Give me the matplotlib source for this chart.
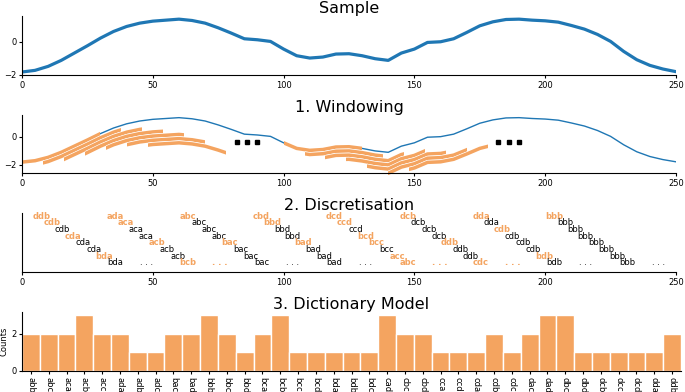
import numpy as np
import matplotlib.pyplot as plt
from matplotlib.patches import Rectangle

# sample series read every 5 steps
t = [0, 5, 10, 15, 20, 25, 30, 35, 40, 45, 50, 55, 60, 65, 70, 75, 80, 85, 90, 95,
     100, 105, 110, 115, 120, 125, 130, 135, 140, 145, 150, 155, 160, 165, 170, 175,
     180, 185, 190, 195, 200, 205, 210, 215, 220, 225, 230, 235, 240, 245, 250]
y = [-1.82, -1.72, -1.48, -1.12, -0.68, -0.24, 0.22, 0.62, 0.92, 1.12, 1.24, 1.30,
     1.36, 1.28, 1.12, 0.84, 0.52, 0.18, 0.12, 0.02, -0.44, -0.84, -0.98, -0.92,
     -0.74, -0.72, -0.84, -1.02, -1.12, -0.68, -0.44, -0.04, 0.00, 0.18, 0.56, 0.96,
     1.20, 1.34, 1.36, 1.30, 1.26, 1.18, 0.98, 0.76, 0.44, 0.02, -0.58, -1.08,
     -1.42, -1.64, -1.80]

window_starts = [0, 8, 16, 24, 32, 40, 48, 100, 108, 116, 124, 132, 140, 148]
window_len = 30
dots_x = [82, 86, 90, 182, 186, 190]

# discretisation: 8 columns of 8 words each
col_start = [7.5, 35.5, 63.5, 91.5, 119.5, 147.5, 175.5, 203.5]
words = [
    ['ddb', 'cdb', 'cdb', 'cda', 'cda', 'cda', 'bda', 'bda'],
    ['ada', 'aca', 'aca', 'aca', 'acb', 'acb', 'acb', 'bcb'],
    ['abc', 'abc', 'abc', 'abc', 'bac', 'bac', 'bac', 'bac'],
    ['cbd', 'bbd', 'bbd', 'bbd', 'bad', 'bad', 'bad', 'bad'],
    ['dcd', 'ccd', 'ccd', 'bcd', 'bcc', 'bcc', 'acc', 'abc'],
    ['dcb', 'dcb', 'dcb', 'dcb', 'ddb', 'ddb', 'ddb', 'cdc'],
    ['dda', 'dda', 'cdb', 'cdb', 'cdb', 'cdb', 'bdb', 'bdb'],
    ['bbb', 'bbb', 'bbb', 'bbb', 'bbb', 'bbb', 'bbb', 'bbb'],
]
new_word = [
    [1, 1, 0, 1, 0, 0, 1, 0],
    [1, 1, 0, 0, 1, 0, 0, 1],
    [1, 0, 0, 0, 1, 0, 0, 0],
    [1, 1, 0, 0, 1, 0, 0, 0],
    [1, 1, 0, 1, 1, 0, 1, 1],
    [1, 0, 0, 0, 1, 0, 0, 1],
    [1, 0, 1, 0, 0, 0, 1, 0],
    [1, 0, 0, 0, 0, 0, 0, 0],
]
ellipsis_new = [0, 1, 0, 0, 1, 1, 0, 0]

# dictionary model
dict_words = ['abb', 'abc', 'aca', 'acb', 'acc', 'ada', 'adb', 'adc', 'bac', 'bad',
              'bbb', 'bbc', 'bbd', 'bca', 'bcb', 'bcc', 'bcd', 'bda', 'bdb', 'bdc',
              'cad', 'cbc', 'cbd', 'cca', 'ccd', 'cda', 'cdb', 'cdc', 'dac', 'dad',
              'dbc', 'dbd', 'dcb', 'dcc', 'dcd', 'dda', 'ddb']
counts = [2, 2, 2, 3, 2, 2, 1, 1, 2, 2, 3, 2, 1, 2, 3, 1, 1, 1, 1, 1,
          3, 2, 2, 1, 1, 1, 2, 1, 2, 3, 3, 1, 1, 1, 1, 1, 2]

blue = '#1f77b4'
orange = '#f4a460'

fig = plt.figure(figsize=(6.85, 3.92), dpi=100)
W, H = 685, 392


def add_ax(l, r, top, bot):
    return fig.add_axes([l / W, 1 - bot / H, (r - l) / W, (bot - top) / H])


ax1 = add_ax(22, 676, 16, 75)
ax2 = add_ax(22, 676, 115, 173)
ax3 = add_ax(22, 676, 213, 272)
ax4 = add_ax(22, 681, 312, 371)

for ax in [ax1, ax2, ax3, ax4]:
    ax.spines['top'].set_visible(False)
    ax.spines['right'].set_visible(False)
    ax.tick_params(labelsize=6, length=2.5, pad=1.5)

tt = np.array(t)
yy = np.array(y)

# Sample
ax1.plot(tt, yy, color=blue, lw=2.3)
ax1.set_xlim(0, 250)
ax1.set_ylim(-2.0, 1.55)
ax1.set_yticks([-2, 0])
ax1.set_xticks([0, 50, 100, 150, 200, 250])
ax1.set_title('Sample', fontsize=11.5, pad=2)

# Windowing: each window is the series shifted down, clipped to its x range
ax2.plot(tt, yy, color=blue, lw=1)
for i, s in enumerate(window_starts):
    k = i % 7
    for col, lw in [('white', 3.4), (orange, 2.5)]:
        ln, = ax2.plot(tt, yy - 0.3 * k, color=col, lw=lw, solid_capstyle='butt')
        ln.set_clip_path(Rectangle((s, -10), window_len, 20, transform=ax2.transData))
ax2.plot(dots_x, [-0.35] * len(dots_x), 's', color='black', ms=2.2, ls='none')
ax2.set_xlim(0, 250)
ax2.set_ylim(-2.6, 1.55)
ax2.set_yticks([-2, 0])
ax2.set_xticks([0, 50, 100, 150, 200, 250])
ax2.set_title('1. Windowing', fontsize=11.5, pad=2)

# Discretisation
for c in range(8):
    for r in range(8):
        is_new = new_word[c][r]
        ax3.text(col_start[c] + 4 * r, 7 - r, words[c][r], ha='center', va='center',
                 fontsize=6, color=orange if is_new else 'black',
                 fontweight='bold' if is_new else 'normal')
    ax3.text(col_start[c] + 40, 0, '. . .', ha='center', va='center', fontsize=6,
             color=orange if ellipsis_new[c] else 'black',
             fontweight='bold' if ellipsis_new[c] else 'normal')
ax3.set_xlim(0, 250)
ax3.set_ylim(-1.35, 7.45)
ax3.set_yticks([])
ax3.set_xticks([0, 50, 100, 150, 200, 250])
ax3.set_title('2. Discretisation', fontsize=11.5, pad=2)

# Dictionary Model
xpos = np.arange(len(dict_words))
ax4.bar(xpos, counts, width=1, color=orange, edgecolor='white', linewidth=1)
ax4.set_xlim(-0.5, len(dict_words) - 0.5)
ax4.set_ylim(0, 3.15)
ax4.set_yticks([0, 2])
ax4.set_xticks(xpos)
ax4.set_xticklabels(dict_words, rotation=-90, fontsize=6)
ax4.set_ylabel('Counts', fontsize=6, labelpad=2)
ax4.set_title('3. Dictionary Model', fontsize=11.5, pad=2)

fig.savefig('out.png', dpi=100)
